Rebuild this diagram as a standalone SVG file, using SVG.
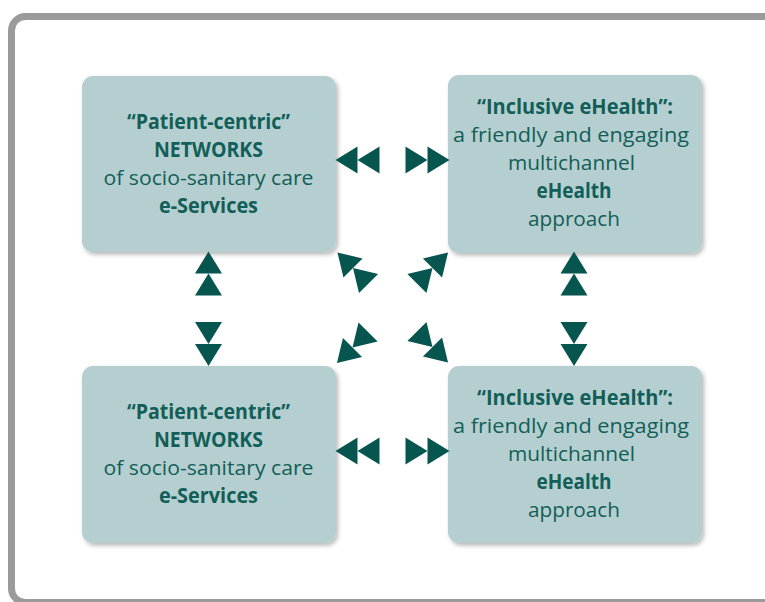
<svg xmlns="http://www.w3.org/2000/svg" width="765" height="602" viewBox="0 0 765 602">
<defs>
<style>
.frame{fill:none;stroke:#9b9b9b;stroke-width:7}
.box{fill:#b5cfd0;filter:url(#sh)}
.t{font-family:"Open Sans","Liberation Sans",sans-serif;font-size:20.5px;fill:#125e58;text-anchor:middle}
.b{font-weight:bold}
.arr{fill:#06554f}
</style>
<filter id="sh" x="-10%" y="-10%" width="125%" height="125%">
<feDropShadow dx="2" dy="2.5" stdDeviation="2" flood-color="#000" flood-opacity="0.28"/>
</filter>
<g id="pair">
<polygon points="-22,-13.5 0,0 -22,13.5"/>
<polygon points="0,-13.5 22,0 0,13.5"/>
</g>
</defs>
<rect width="765" height="602" fill="#ffffff"/>
<rect class="frame" x="11.5" y="16.5" width="800" height="586" rx="14"/>

<g id="node-tl">
<rect class="box" x="82" y="76" width="254" height="176" rx="11"/>
<text class="t b" x="208.5" y="128.5" textLength="163" lengthAdjust="spacingAndGlyphs">“Patient-centric”</text>
<text class="t b" x="208.5" y="156.5" textLength="109" lengthAdjust="spacingAndGlyphs">NETWORKS</text>
<text class="t" x="208.5" y="184.5" textLength="210" lengthAdjust="spacingAndGlyphs">of socio-sanitary care</text>
<text class="t b" x="208.5" y="212.5" textLength="99" lengthAdjust="spacingAndGlyphs">e-Services</text>
</g>

<g id="node-tr">
<rect class="box" x="448" y="75" width="254" height="178" rx="11"/>
<text class="t b" x="575" y="114.3" textLength="196" lengthAdjust="spacingAndGlyphs">“Inclusive eHealth”:</text>
<text class="t" x="571" y="142" textLength="236" lengthAdjust="spacingAndGlyphs">a friendly and engaging</text>
<text class="t" x="571.5" y="170" textLength="127" lengthAdjust="spacingAndGlyphs">multichannel</text>
<text class="t b" x="574" y="198.3" textLength="75" lengthAdjust="spacingAndGlyphs">eHealth</text>
<text class="t" x="574" y="226" textLength="92" lengthAdjust="spacingAndGlyphs">approach</text>
</g>

<g id="node-bl">
<rect class="box" x="82" y="366" width="254" height="177" rx="11"/>
<text class="t b" x="208.5" y="419" textLength="163" lengthAdjust="spacingAndGlyphs">“Patient-centric”</text>
<text class="t b" x="208.5" y="447" textLength="109" lengthAdjust="spacingAndGlyphs">NETWORKS</text>
<text class="t" x="208.5" y="475" textLength="210" lengthAdjust="spacingAndGlyphs">of socio-sanitary care</text>
<text class="t b" x="208.5" y="503" textLength="99" lengthAdjust="spacingAndGlyphs">e-Services</text>
</g>

<g id="node-br">
<rect class="box" x="448" y="366" width="254" height="177" rx="11"/>
<text class="t b" x="575" y="404.8" textLength="196" lengthAdjust="spacingAndGlyphs">“Inclusive eHealth”:</text>
<text class="t" x="571" y="432.5" textLength="236" lengthAdjust="spacingAndGlyphs">a friendly and engaging</text>
<text class="t" x="571.5" y="460.5" textLength="127" lengthAdjust="spacingAndGlyphs">multichannel</text>
<text class="t b" x="574" y="488.8" textLength="75" lengthAdjust="spacingAndGlyphs">eHealth</text>
<text class="t" x="574" y="516.5" textLength="92" lengthAdjust="spacingAndGlyphs">approach</text>
</g>

<g id="connectors" class="arr">
<use href="#pair" transform="translate(357.5,160) rotate(180)"/>
<use href="#pair" transform="translate(427.5,160)"/>
<use href="#pair" transform="translate(357.5,451) rotate(180)"/>
<use href="#pair" transform="translate(427.5,451)"/>
<use href="#pair" transform="translate(208.5,273.5) rotate(-90)"/>
<use href="#pair" transform="translate(208.5,344) rotate(90)"/>
<use href="#pair" transform="translate(574,273.5) rotate(-90)"/>
<use href="#pair" transform="translate(574,344) rotate(90)"/>
<use href="#pair" transform="translate(353,268) rotate(-135)"/>
<use href="#pair" transform="translate(432.5,268) rotate(-45)"/>
<use href="#pair" transform="translate(352.5,347.5) rotate(135)"/>
<use href="#pair" transform="translate(432.5,347) rotate(45)"/>
</g>
</svg>
